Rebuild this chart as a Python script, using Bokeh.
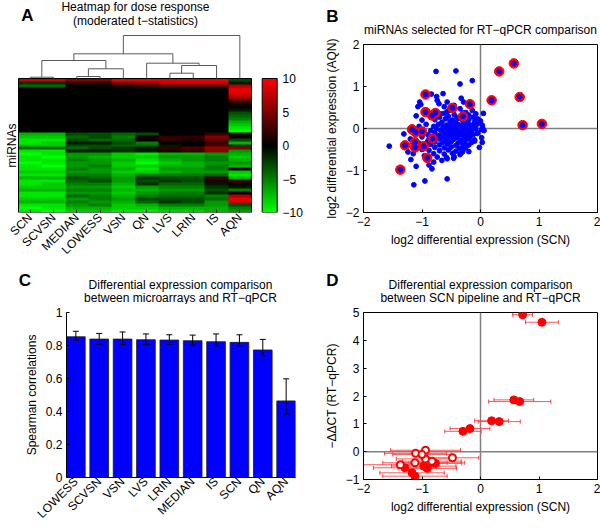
import math
import numpy as np
from bokeh.plotting import figure
from bokeh.layouts import row, column
from bokeh.models import (Range1d, LinearAxis, FixedTicker, Label, Span, Whisker, TeeHead,
                          ColumnDataSource, LinearColorMapper, CustomJSTickFormatter)
from bokeh.embed import file_html
from bokeh.resources import INLINE

FONT = "Liberation Sans"
FS = "12px"

# ---------------- Panel A: heatmap of moderated t-statistics (rows top -> bottom) ----------------
heat_methods = ["SCN", "SCVSN", "MEDIAN", "LOWESS", "VSN", "QN", "LVS", "LRIN", "IS", "AQN"]
t_SCN = [8, -2, -4, 0, 0, 0, 0, 0, 0, 0, 0, 0, 0, 0, 0, 0, 0, 0,
         -7, -8, -9, -9, -8, -4, -9, -10, -9, -9, -10, -9, -9, -8, -9, -7, -9, -9, -8, -7,
         -9, -9, -8, -7, -9, -10, -9]
t_SCVSN = [8, -2, -4, 0, 0, 0, 0, 0, 0, 0, 0, 0, 0, 0, 0, 0, 0, 0,
           -7, -8, -9, -8, -8, -4, -9, -9, -10, -9, -9, -10, -9, -8, -9, -7, -9, -8, -8, -7,
           -9, -9, -8, -7, -9, -9, -10]
t_MEDIAN = [5, 2, 0, 0, 0, 0, 0, 0, 0, 0, 0, 0, 0, 0, 0, 0, 0, 0,
            -3, -4, -3, -1, -3, -4, -1, -6, -6, -5, -6, -6, -5, -6, -5, -3, -4, -5, -6, -5,
            -6, -4, -6, -5, -6, -7, -8]
t_LOWESS = [5, 2, 0, 0, 0, 0, 0, 0, 0, 0, 0, 0, 0, 0, 0, 0, 0, 0,
            -3, -3, -4, -1, -3, -3, -1, -6, -7, -6, -6, -5, -6, -6, -5, -4, -3, -5, -6, -5,
            -6, -5, -5, -6, -5, -7, -8]
t_VSN = [9, 5, 1, 0, 0, 0, 0, 0, 0, 0, 0, 0, 0, 0, 0, 0, 0, 0,
         -4, -5, -4, -3, -4, -2, -2, -8, -8, -7, -8, -8, -7, -8, -7, -6, -6, -7, -8, -7,
         -8, -7, -6, -7, -8, -8, -9]
t_QN = [9, 6, 2, 0, 0, 0, 0, 0, 0, 0, 0, 0, 0, 0, 0, 0, 0, 0,
        -3, 1, 0, -5, -4, -1, -1, -9, -8, -9, -10, -8, -9, -8, -5, -2, -3, -2, -6, -7,
        -6, -5, -3, -4, -7, -8, -9]
t_LVS = [9, 8, 3, 0, 0, 0, 0, 0, 0, 0, 0, 0, 0, 0, 0, 0, 0, 0,
         0, 2, 2, 0, -1, 2, 1, -7, -6, -7, -8, -7, -6, -7, -5, -3, -2, -4, -5, -6,
         -5, -4, -3, -2, -5, -7, -8]
t_LRIN = [9, 8, 3, 0, 0, 0, 0, 0, 0, 0, 0, 0, 0, 0, 0, 0, 0, 0,
          0, 2, 1, 0, 0, 3, 2, -7, -6, -6, -7, -7, -6, -6, -5, -3, -3, -4, -5, -6,
          -5, -4, -3, -3, -5, -7, -8]
t_IS = [9, 8, 3, 0, 0, 0, 0, 0, 0, 0, 0, 0, 0, 0, 0, 0, 0, 0,
        2, 5, 4, 2, 3, 6, 5, -6, -5, -5, -6, -5, -5, -6, -4, 2, 1, -1, -2, -3,
        -2, -5, -4, -6, -6, -7, -7]
t_AQN = [-3, -1, 7, 9, 9, 8, 6, 3, 1, 0, -1, -3, -4, -5, -7, -8, -9, -10,
         2, 0, -3, -7, -2, 5, -6, -7, -8, -7, -6, -7, 0, -8, -9, -7, 3, 0, -1, -5,
         0, 7, 9, 8, -3, -5, -6]
heat_columns = [t_SCN, t_SCVSN, t_MEDIAN, t_LOWESS, t_VSN, t_QN, t_LVS, t_LRIN, t_IS, t_AQN]
colorbar_ticks = [-10, -5, 0, 5, 10]
# hierarchical clustering of the columns (leaf ids 0..9, new clusters 10, 11, ...)
dendro_left = [0, 2, 6, 11, 12, 5, 10, 16, 17]
dendro_right = [1, 3, 7, 4, 8, 14, 13, 15, 9]
dendro_height = [0.44, 0.67, 1.78, 3.26, 4.37, 5.14, 6.04, 8.29, 14.44]

# ---------------- Panel B: log2 differential expression, SCN vs AQN ----------------
blue_scn = [-0.76, -0.42, -0.35, -0.14, -0.84, -0.75, -0.64, -0.71, -0.74, -1.04,
            -1.07, -1.02, -0.33, -0.29, -0.14, -0.68, -0.54, -0.57, -0.57, -0.35,
            0.05, -0.03, 0.06, 0.02, 0.03, 0.04, -1.31, -1.56, -1.24, -1.19,
            -1.10, -1.14, -0.95, -0.57, -0.83, -0.88, -0.80, -0.66, -0.57, -0.46,
            -0.31, -0.29, -0.34, -0.11, -0.05, -0.08, 0.03, -1.00, -1.05, -1.20,
            -1.00, -1.15, -1.05, -1.00, -0.93, -1.20, -1.10, -0.96, -0.90, -0.62,
            -0.45, -0.25, -0.02, -0.10, -0.20,
            -0.62, -0.45, -0.30, -0.20, -0.08, -0.70, -0.55, -0.40, -0.25, -0.12,
            -0.78, -0.60, -0.48, -0.36, -0.20, -0.05, -0.66, -0.52, -0.42, -0.30, -0.22, -0.10, 0.00,
            -0.72, -0.58, -0.47, -0.38, -0.28, -0.17, -0.06, -0.80, -0.64, -0.53, -0.44, -0.33, -0.24, -0.13,
            -0.75, -0.60, -0.50, -0.41, -0.30, -0.20, -0.08, 0.02, -0.85, -0.68, -0.55, -0.45, -0.36, -0.26, -0.15,
            -0.78, -0.62, -0.50, -0.40, -0.30, -0.20, -0.05, -0.90, -0.70, -0.57, -0.45, -0.35, -0.25, -0.12,
            -0.76, -0.63, -0.52, -0.40, -0.28, -0.18, -0.88, -0.70, -0.58, -0.46, -0.33, -0.22, -0.10,
            -0.78, -0.64, -0.50, -0.38, -0.27, -0.15, -0.85, -0.70, -0.56, -0.42, -0.30, -0.20,
            -0.78, -0.62, -0.50, -0.36, -0.25, -0.88, -0.70, -0.55, -0.42, -0.30,
            -0.80, -0.62, -0.48, -0.35, -0.74, -0.58, -0.45]
blue_aqn = [1.36, 1.37, 1.06, 1.14, 0.82, 0.76, 0.83, 0.59, 0.67, 0.63,
            0.52, 0.57, 0.72, 0.63, 0.43, 0.35, 0.43, 0.63, 0.40, 0.47,
            0.36, 0.15, -0.05, -0.22, -0.33, 0.00, -0.13, -0.42, -0.56, -0.74,
            -0.90, -1.34, -1.25, -1.20, -0.96, -0.87, -0.80, -0.76, -0.72, -0.71,
            -0.56, -0.44, -0.60, 0.05, -0.12, 0.22, 0.08, -0.20, -0.35, -0.25,
            -0.50, -0.60, 0.05, 0.20, 0.10, -0.05, 0.30, -0.65, -0.30, 0.52,
            0.55, 0.38, -0.45, -0.30, -0.55,
            0.36, 0.33, 0.37, 0.32, 0.35, 0.27, 0.29, 0.26, 0.30, 0.27,
            0.21, 0.23, 0.20, 0.24, 0.21, 0.23, 0.15, 0.17, 0.14, 0.17, 0.14, 0.16, 0.18,
            0.10, 0.08, 0.11, 0.09, 0.11, 0.08, 0.10, 0.05, 0.04, 0.06, 0.03, 0.05, 0.04, 0.06,
            0.00, -0.01, 0.01, -0.02, 0.01, -0.01, 0.00, -0.02, -0.05, -0.04, -0.06, -0.05, -0.07, -0.04, -0.06,
            -0.10, -0.11, -0.09, -0.12, -0.10, -0.11, -0.09, -0.15, -0.16, -0.14, -0.17, -0.15, -0.16, -0.14,
            -0.20, -0.21, -0.19, -0.22, -0.20, -0.21, -0.26, -0.25, -0.27, -0.26, -0.28, -0.25, -0.27,
            -0.32, -0.33, -0.31, -0.34, -0.32, -0.33, -0.38, -0.39, -0.37, -0.40, -0.38, -0.39,
            -0.45, -0.46, -0.44, -0.47, -0.45, -0.52, -0.53, -0.51, -0.54, -0.52,
            -0.60, -0.61, -0.59, -0.62, -0.68, -0.69, -0.67]

# miRNAs selected for RT-qPCR (shared by panels B and D)
sel_scn = [0.57, 0.32, 0.67, 0.19, 0.72, 1.05, -0.18, -0.30, -0.94, -0.48, -0.94, -0.77,
           -0.83, -1.17, -1.11, -1.00, -0.82, -1.29, -1.12, -0.97, -0.91, -1.37, -1.12]
sel_aqn = [1.55, 1.36, 0.75, 0.67, 0.08, 0.11, 0.58, 0.29, 0.81, 0.49, 0.39, 0.37,
           0.31, -0.02, -0.09, -0.07, -0.24, -0.40, -0.45, -0.42, -0.70, -0.98, -0.33]
sel_ddct = [1.86, 1.08, 1.80, 1.11, 4.92, 4.65, 0.83, 0.73, 0.05, -0.22, -0.26, -0.42,
            -0.34, -0.76, -0.06, -0.10, -0.40, -0.58, -0.40, -0.52, -0.60, -0.47, -0.88]
sel_err = [0.34, 0.36, 0.53, 0.29, 0.17, 0.28, 0.34, 0.31, 0.60, 0.45, 0.50, 0.45,
           0.50, 0.55, 0.53, 0.50, 0.55, 0.54, 0.55, 0.55, 0.50, 0.63, 0.55]
sel_signif = [1, 1, 1, 1, 1, 1, 1, 1, 0, 0, 0, 1, 0, 1, 0, 0, 1, 1, 0, 1, 1, 0, 1]

# ---------------- Panel C: Spearman correlations ----------------
corr_methods = ["LOWESS", "SCVSN", "VSN", "LVS", "LRIN", "MEDIAN", "IS", "SCN", "QN", "AQN"]
corr_rho = [0.853, 0.839, 0.839, 0.835, 0.833, 0.829, 0.823, 0.819, 0.773, 0.464]
corr_hi = [0.886, 0.873, 0.882, 0.870, 0.865, 0.863, 0.870, 0.865, 0.837, 0.598]
corr_lo = [0.831, 0.807, 0.807, 0.807, 0.807, 0.803, 0.797, 0.797, 0.737, 0.384]
corr_ticks = [0, 0.2, 0.4, 0.6, 0.8, 1.0]

pm2_ticks = [-2, -1, 0, 1, 2]
ddct_ticks = [-1, 0, 1, 2, 3, 4, 5]


# ---------------- helpers ----------------
def minus_fmt():
    return CustomJSTickFormatter(code="return (tick < 0 ? '\u2212' : '') + Math.abs(tick).toString();")


def no_align(p):
    if "frame_align" in p.properties():
        p.frame_align = False


def make_fig(w, h, xr, yr, mb, **kw):
    p = figure(width=w, height=h, x_range=xr, y_range=yr, toolbar_location=None,
               output_backend="svg", title=None, min_border_left=mb[0], min_border_right=mb[1],
               min_border_top=mb[2], min_border_bottom=mb[3], **kw)
    p.grid.visible = False
    p.outline_line_color = "black"
    p.background_fill_color = "white"
    p.border_fill_color = "white"
    no_align(p)
    return p


def header(w, h):
    p = figure(frame_width=w, frame_height=h, x_range=Range1d(0, w), y_range=Range1d(0, h),
               toolbar_location=None, output_backend="svg", title=None, min_border=0,
               x_axis_location=None, y_axis_location=None)
    p.grid.visible = False
    p.outline_line_color = None
    p.background_fill_color = "white"
    p.border_fill_color = "white"
    no_align(p)
    return p


def style_axis(ax, tick_in=3):
    ax.major_tick_in = tick_in
    ax.major_tick_out = 0
    ax.minor_tick_line_color = None
    ax.major_tick_line_color = "black"
    ax.axis_line_color = "black"
    ax.major_label_text_font = FONT
    ax.major_label_text_font_size = FS
    ax.major_label_text_color = "black"
    ax.axis_label_text_font = FONT
    ax.axis_label_text_font_size = FS
    ax.axis_label_text_font_style = "normal"
    ax.axis_label_text_color = "black"
    ax.major_label_standoff = 4
    ax.axis_label_standoff = 4


def put(p, x, y, text, size=FS, bold=False, align="center", angle=0.0):
    p.add_layout(Label(x=x, y=y, x_units="screen", y_units="screen", text=text, text_font=FONT,
                       text_font_size=size, text_font_style="bold" if bold else "normal",
                       text_color="black", text_align=align, text_baseline="middle", angle=angle))


# ---------------- Panel A (frame reaches the top-left corner; heatmap box drawn explicitly) ----
n_rows = len(t_SCN)
n_cols = len(heat_methods)
A_W, A_H = 310, 264
A_MB = (0, 31, 0, 52)
A_FW = A_W - A_MB[0] - A_MB[1]          # 279
A_FH = A_H - A_MB[2] - A_MB[3]          # 212
HEAT_X0_PX, HEAT_W_PX, HEAT_H_PX = 18.0, 233.0, 134.0
CB_X0_PX, CB_W_PX = 261.7, 15.0
ux = n_cols / HEAT_W_PX
uy = n_rows / HEAT_H_PX

palette = []
for i in range(128):
    palette.append("#00%02x00" % int(round(255 * (127 - i) / 127)))
for i in range(128):
    palette.append("#%02x0000" % int(round(255 * i / 127)))
mapper = LinearColorMapper(palette=palette, low=-10, high=10)

pA = make_fig(A_W, A_H, Range1d(-HEAT_X0_PX * ux, (A_FW - HEAT_X0_PX) * ux),
              Range1d(0, A_FH * uy), A_MB, y_axis_location=None)
pA.outline_line_color = None
mat = np.flipud(np.array(heat_columns, dtype=float).T)
pA.image(image=[mat], x=0, y=0, dw=n_cols, dh=n_rows, color_mapper=mapper)
cb_x0 = (CB_X0_PX - HEAT_X0_PX) * ux
cb_w = CB_W_PX * ux
cb_img = np.linspace(-10, 10, 256).reshape(-1, 1)
pA.image(image=[cb_img], x=cb_x0, y=0, dw=cb_w, dh=n_rows, color_mapper=mapper)
pA.quad(left=[0, cb_x0], right=[n_cols, cb_x0 + cb_w], bottom=[0, 0], top=[n_rows, n_rows],
        fill_color=None, line_color="black", line_width=1)

# dendrogram
pos = {i: i + 0.5 for i in range(n_cols)}
hgt = {i: 0.0 for i in range(n_cols)}
dxs, dys = [], []
for k, (a, b, h) in enumerate(zip(dendro_left, dendro_right, dendro_height)):
    xa, xb = pos[a], pos[b]
    dxs.append([xa, xa, xb, xb])
    dys.append([n_rows + hgt[a], n_rows + h, n_rows + h, n_rows + hgt[b]])
    pos[n_cols + k] = (xa + xb) / 2.0
    hgt[n_cols + k] = h
pA.multi_line(dxs, dys, line_color="#5a5a5a", line_width=1)

axA = pA.xaxis[0]
style_axis(axA, 3)
axA.axis_line_color = None
axA.ticker = FixedTicker(ticks=[i + 0.5 for i in range(n_cols)])
axA.major_label_overrides = {i + 0.5: m for i, m in enumerate(heat_methods)}
axA.major_label_orientation = math.pi / 4
axA.major_label_standoff = 3

pA.extra_y_ranges = {"cb": Range1d(-10, -10 + 20.0 * A_FH * uy / n_rows)}
cax = LinearAxis(y_range_name="cb", ticker=FixedTicker(ticks=colorbar_ticks), formatter=minus_fmt())
style_axis(cax, 0)
cax.axis_line_color = None
cax.major_label_standoff = 3
pA.add_layout(cax, "right")

put(pA, 135, 206, "Heatmap for dose response")
put(pA, 135, 192, "(moderated t\u2212statistics)")
put(pA, 27, 197, "A", size="17px", bold=True)
put(pA, 11, 67, "miRNAs", angle=math.pi / 2)

# ---------------- Panel B ----------------
hB = header(290, 36)
put(hB, 170, 7, "miRNAs selected for RT\u2212qPCR comparison")
put(hB, 22, 20, "B", size="17px", bold=True)

pB = make_fig(290, 228, Range1d(-2, 2), Range1d(-2, 2), (53, 3, 8, 52))
for dim in ("width", "height"):
    s = Span(location=0, dimension=dim, line_color="#808080", line_width=1.5)
    s.level = "underlay"
    pB.add_layout(s)
pB.scatter(blue_scn, blue_aqn, size=4.8, color="#0000ff")
pB.scatter(sel_scn, sel_aqn, size=9.5, color="#ff0000")
pB.scatter(sel_scn, sel_aqn, size=4.8, color="#0000ff")
for ax in (pB.xaxis[0], pB.yaxis[0]):
    style_axis(ax)
    ax.ticker = FixedTicker(ticks=pm2_ticks)
    ax.formatter = minus_fmt()
pB.xaxis[0].axis_label = "log2 differential expression (SCN)"
pB.yaxis[0].axis_label = "log2 differential expression (AQN)"

# ---------------- Panel C ----------------
hC = header(310, 40)
put(hC, 180, 20, "Differential expression comparison")
put(hC, 180, 7, "between microarrays and RT\u2212qPCR")
put(hC, 24.5, 24, "C", size="17px", bold=True)

idx = list(range(1, len(corr_methods) + 1))
pC = make_fig(310, 224, Range1d(0.6, len(corr_methods) + 0.4), Range1d(0, 1), (66, 15, 8, 49))
pC.outline_line_color = None
pC.vbar(x=idx, top=corr_rho, width=0.8, fill_color="#0000ff", line_color="#1a1a1a", line_width=0.8)
wsrc = ColumnDataSource(dict(x=idx, lo=corr_lo, hi=corr_hi))
wc = Whisker(source=wsrc, base="x", lower="lo", upper="hi", dimension="height",
             line_color="black", line_width=1,
             upper_head=TeeHead(size=6, line_color="black", line_width=1),
             lower_head=TeeHead(size=6, line_color="black", line_width=1))
wc.level = "annotation"
pC.add_layout(wc)
style_axis(pC.xaxis[0], 0)
pC.xaxis[0].ticker = FixedTicker(ticks=idx)
pC.xaxis[0].major_label_overrides = {i: m for i, m in zip(idx, corr_methods)}
pC.xaxis[0].major_label_orientation = math.pi / 4
pC.xaxis[0].major_label_standoff = 2
style_axis(pC.yaxis[0], 3)
pC.yaxis[0].ticker = FixedTicker(ticks=corr_ticks)
pC.yaxis[0].formatter = CustomJSTickFormatter(code="return (Math.round(tick * 10) / 10).toString();")
pC.yaxis[0].axis_label = "Spearman correlations"

# ---------------- Panel D ----------------
hD = header(290, 40)
put(hD, 170, 20, "Differential expression comparison")
put(hD, 170, 7, "between SCN pipeline and RT\u2212qPCR")
put(hD, 22, 24, "D", size="17px", bold=True)

pD = make_fig(290, 224, Range1d(-2, 2), Range1d(-1, 5), (53, 3, 8, 49))
for dim in ("width", "height"):
    s = Span(location=0, dimension=dim, line_color="#808080", line_width=1.5)
    s.level = "underlay"
    pD.add_layout(s)
dsrc = ColumnDataSource(dict(y=sel_ddct,
                             lo=[x - e for x, e in zip(sel_scn, sel_err)],
                             hi=[x + e for x, e in zip(sel_scn, sel_err)]))
wd = Whisker(source=dsrc, base="y", lower="lo", upper="hi", dimension="width",
             line_color="#ff3b3b", line_width=1, line_alpha=0.85,
             upper_head=TeeHead(size=4, line_color="#ff3b3b", line_width=1),
             lower_head=TeeHead(size=4, line_color="#ff3b3b", line_width=1))
wd.level = "underlay"
pD.add_layout(wd)
fx = [x for x, s in zip(sel_scn, sel_signif) if s]
fy = [y for y, s in zip(sel_ddct, sel_signif) if s]
ox = [x for x, s in zip(sel_scn, sel_signif) if not s]
oy = [y for y, s in zip(sel_ddct, sel_signif) if not s]
pD.scatter(fx, fy, size=8, fill_color="#ff0000", line_color="#ff0000")
pD.scatter(ox, oy, size=7, fill_color="white", line_color="#ff0000", line_width=2)
style_axis(pD.xaxis[0])
pD.xaxis[0].ticker = FixedTicker(ticks=pm2_ticks)
pD.xaxis[0].formatter = minus_fmt()
pD.xaxis[0].axis_label = "log2 differential expression (SCN)"
style_axis(pD.yaxis[0])
pD.yaxis[0].ticker = FixedTicker(ticks=ddct_ticks)
pD.yaxis[0].formatter = minus_fmt()
pD.yaxis[0].axis_label = "\u2212\u0394\u0394CT (RT\u2212qPCR)"

layout = column(row(pA, column(hB, pB)), row(column(hC, pC), column(hD, pD)))
open("out.html", "w", encoding="utf-8").write(file_html(layout, INLINE, title="Figure"))
